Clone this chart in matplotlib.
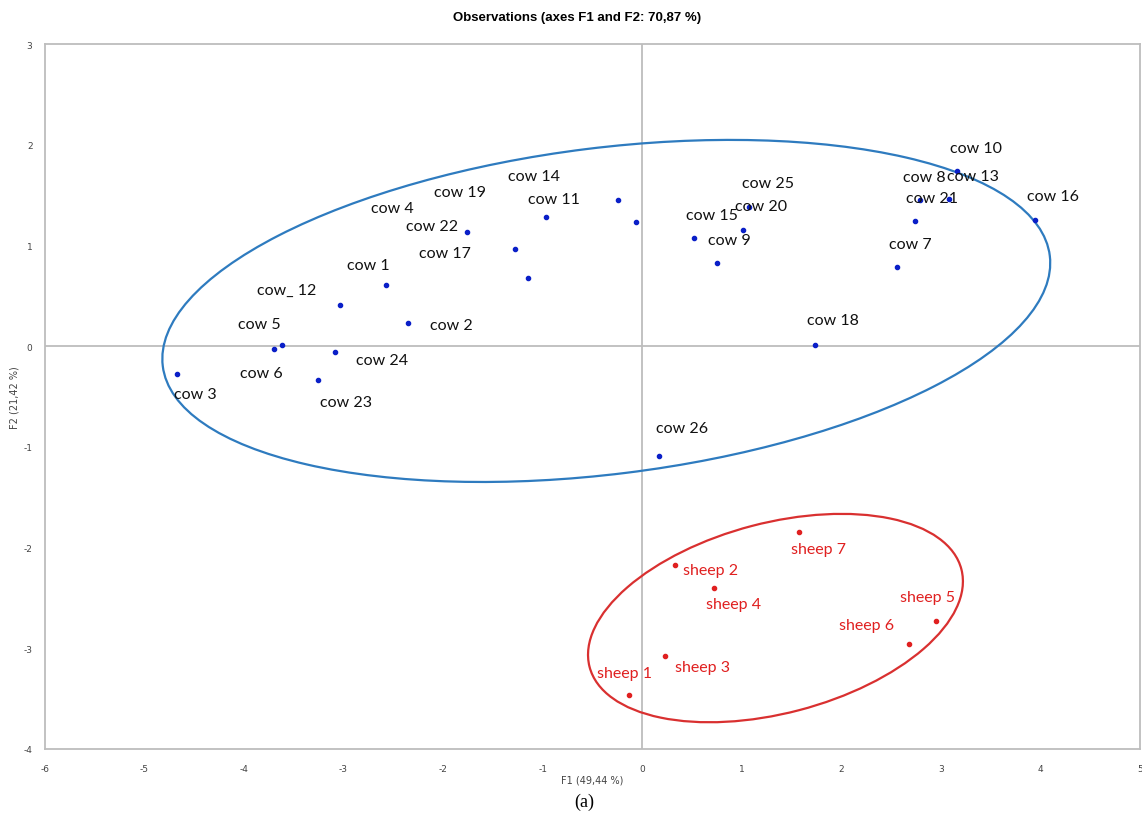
import matplotlib
matplotlib.use("Agg")
from matplotlib import pyplot as plt
from matplotlib.patches import Ellipse

plt.rcParams["axes.unicode_minus"] = False

# cows (blue)
cow_names = ["cow 3", "cow 6", "cow 5", "cow 24", "cow 23", "cow_ 12", "cow 1", "cow 2",
             "cow 4", "cow 22", "cow 17", "cow 19", "cow 14", "cow 11", "cow 15", "cow 9",
             "cow 20", "cow 25", "cow 18", "cow 7", "cow 21", "cow 8", "cow 13", "cow 10",
             "cow 16", "cow 26"]
cow_f1 = [-4.67, -3.70, -3.62, -3.09, -3.26, -3.04, -2.57, -2.35,
          -1.76, -1.28, -1.15, -0.97, -0.24, -0.06, 0.52, 0.75,
          1.01, 1.07, 1.74, 2.56, 2.74, 2.79, 3.08, 3.16,
          3.95, 0.17]
cow_f2 = [-0.28, -0.03, 0.01, -0.06, -0.34, 0.41, 0.61, 0.23,
          1.13, 0.97, 0.68, 1.28, 1.45, 1.23, 1.07, 0.83,
          1.15, 1.38, 0.01, 0.79, 1.24, 1.45, 1.46, 1.74,
          1.25, -1.09]

# sheep (red)
sheep_names = ["sheep 1", "sheep 2", "sheep 3", "sheep 4", "sheep 5", "sheep 6", "sheep 7"]
sheep_f1 = [-0.13, 0.33, 0.23, 0.72, 2.95, 2.68, 1.58]
sheep_f2 = [-3.46, -2.17, -3.08, -2.40, -2.73, -2.96, -1.85]

# label offsets (pixels)
cow_off = [(18, -20), (-13, -24), (-23, 21), (47, -8), (28, -22), (-53, 15), (-18, 20), (43, -2),
           (-75, 24), (-83, 23), (-83, 25), (-86, 25), (-84, 24), (-82, 23), (18, 23), (13, 23),
           (18, 24), (19, 24), (18, 25), (13, 23), (17, 23), (5, 23), (24, 23), (19, 23),
           (18, 24), (23, 28)]
sheep_off = [(-5, 22), (36, -5), (37, -11), (20, -16), (-8, 24), (-42, 19), (19, -17)]

blue = "#0A1FC8"
red = "#E02020"

fig = plt.figure(figsize=(11.42, 8.2), dpi=100)
ax = fig.add_axes([0.0394, 0.0854, 0.9586, 0.8596])
ax.set_xlim(-6, 5)
ax.set_ylim(-4, 3)

ax.axhline(0, color="#BDBDBD", lw=1.3, zorder=1)
ax.axvline(0, color="#BDBDBD", lw=1.3, zorder=1)

ax.plot(cow_f1, cow_f2, "o", ms=3, color=blue, zorder=3)
ax.plot(sheep_f1, sheep_f2, "o", ms=3, color=red, zorder=3)

for n, x, y, o in zip(cow_names, cow_f1, cow_f2, cow_off):
    ax.annotate(n, (x, y), xytext=o, textcoords="offset pixels", ha="center", va="center",
                fontsize=11.5, family="Lato", color="#111111")
for n, x, y, o in zip(sheep_names, sheep_f1, sheep_f2, sheep_off):
    ax.annotate(n, (x, y), xytext=o, textcoords="offset pixels", ha="center", va="center",
                fontsize=11.5, family="Lato", color=red)

ax.add_patch(Ellipse((-0.36, 0.35), 8.98, 3.24, angle=7, fill=False, ec="#2E7BBF", lw=1.6))
ax.add_patch(Ellipse((1.34, -2.70), 3.86, 1.89, angle=14.5, fill=False, ec="#D93030", lw=1.6))

for s in ax.spines.values():
    s.set_color("#BDBDBD")
    s.set_linewidth(1.3)
ax.set_xticks(range(-6, 6))
ax.set_yticks(range(-4, 4))
ax.tick_params(length=0, labelsize=6.5, labelcolor="#444444")
ax.tick_params(axis="x", pad=11)
ax.tick_params(axis="y", pad=9)

ax.set_xlabel("F1 (49,44 %)", fontsize=7, color="#444444", labelpad=1)
ax.set_ylabel("F2 (21,42 %)", fontsize=7, color="#444444", labelpad=3)
fig.text(0.505, 0.978, "Observations (axes F1 and F2: 70,87 %)", ha="center", va="center",
         fontsize=9.5, weight="bold", family="Liberation Sans")
fig.text(0.512, 0.022, "(a)", ha="center", va="center", fontsize=13, family="Liberation Serif")

plt.savefig("out.png")
